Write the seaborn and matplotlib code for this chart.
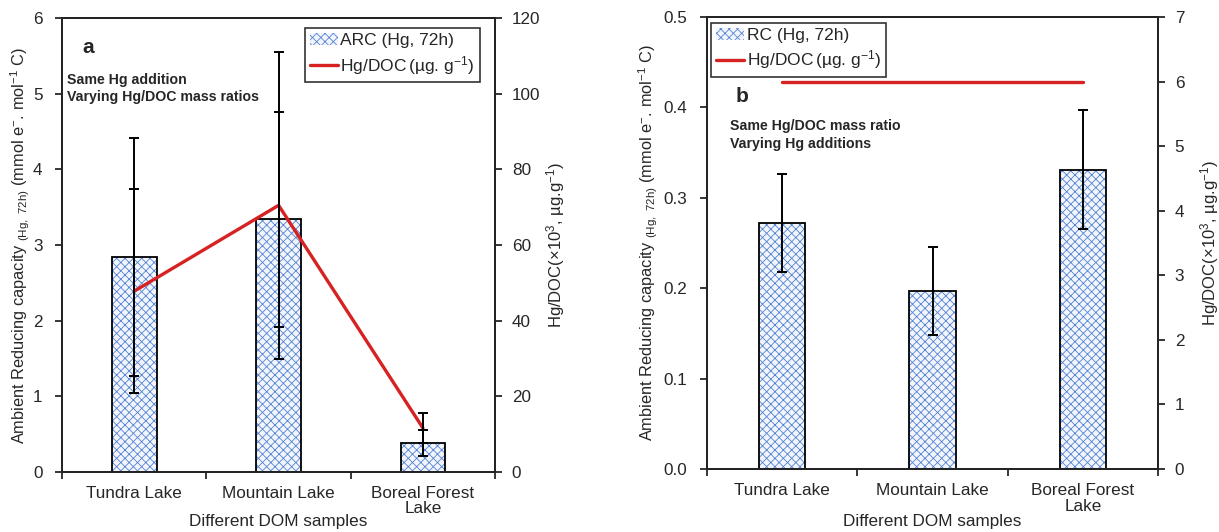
import numpy as np
import matplotlib
matplotlib.use("Agg")
import matplotlib.pyplot as plt
import seaborn as sns

# ---- data ----
samples = ["Tundra Lake", "Mountain Lake", "Boreal Forest\nLake"]

# panel a: same Hg addition, varying Hg/DOC
arc_a = [2.84, 3.34, 0.38]
arc_a_err = [1.57, 1.42, 0.17]
hgdoc_a = [47.8, 70.5, 11.6]
hgdoc_a_err = [27.0, 40.6, 4.0]

# panel b: same Hg/DOC, varying Hg additions
rc_b = [0.272, 0.197, 0.331]
rc_b_err = [0.054, 0.049, 0.066]
hgdoc_b = [6.0, 6.0, 6.0]

bar_face = "#f2f6fc"
hatch_blue = "#5482d4"
red = "#d62222"

sns.set_style("ticks")
plt.rcParams["font.family"] = ["Liberation Sans", "DejaVu Sans"]
plt.rcParams["mathtext.default"] = "regular"
plt.rcParams["hatch.linewidth"] = 0.6
plt.rcParams["axes.linewidth"] = 1.3
plt.rcParams["xtick.major.width"] = 1.3
plt.rcParams["ytick.major.width"] = 1.3
plt.rcParams["xtick.minor.width"] = 1.3

fig = plt.figure(figsize=(12.19, 5.32), dpi=100)
ax_a = fig.add_axes([0.0509, 0.1128, 0.3553, 0.8532])
ax_b = fig.add_axes([0.5800, 0.1184, 0.3700, 0.8497])

ylab = r"Ambient Reducing capacity $_{(Hg,\ 72h)}$ (mmol e$^{-}$. mol$^{-1}$ C)"
rlab = r"Hg/DOC(×10$^{3}$, µg.g$^{-1}$)"


def hatched_bars(ax, values, label):
    sns.barplot(x=samples, y=values, color=bar_face, saturation=1, width=0.31,
                errorbar=None, label=label, ax=ax)
    for p in ax.patches:
        p.set_edgecolor(hatch_blue)
        p.set_hatch("xxxx")
        p.set_linewidth(0)
    n = len(ax.patches)
    sns.barplot(x=samples, y=values, color="black", width=0.31, fill=False,
                errorbar=None, ax=ax)
    for p in ax.patches[n:]:
        p.set_facecolor("none")
        p.set_edgecolor("black")
        p.set_linewidth(1.3)


def style_axes(ax, ax2, xlab_y):
    pos = np.arange(len(samples))
    ax.set_xlim(-0.5, len(samples) - 0.5)
    ax.set_xticks(pos)
    ax.set_xticklabels(samples, fontsize=12.3, linespacing=1.05)
    ax.set_xticks(np.arange(len(samples) + 1) - 0.5, minor=True)
    ax.tick_params(axis="x", which="major", length=0, pad=10)
    ax.tick_params(axis="x", which="minor", length=5, direction="out")
    ax.tick_params(axis="y", length=5, direction="out", labelsize=12.3, pad=9)
    ax2.tick_params(axis="y", length=5, direction="out", labelsize=12.3, pad=7)
    for s in ax.spines.values():
        s.set_visible(True)
        s.set_color("black")
    ax.set_xlabel("Different DOM samples", fontsize=12.3)
    ax.xaxis.set_label_coords(0.5, xlab_y)


def boxed_legend(ax, anchor, loc):
    h, l = ax.get_legend_handles_labels()
    order = [l.index(s) for s in l if not s.startswith("Hg")] + \
            [l.index(s) for s in l if s.startswith("Hg")]
    leg = ax.legend([h[i] for i in order], [l[i] for i in order],
                    loc=loc, bbox_to_anchor=anchor, borderaxespad=0,
                    fontsize=12.5, frameon=True, fancybox=False,
                    handlelength=1.6, handletextpad=0.15, labelspacing=0.3,
                    borderpad=0.3)
    leg.get_frame().set_edgecolor("black")
    leg.get_frame().set_linewidth(1.2)


x = np.arange(len(samples))

# ---------------- panel a ----------------
ax2_a = ax_a.twinx()
ax2_a.set_ylim(0, 120)
ax2_a.set_yticks(np.arange(0, 121, 20))
hatched_bars(ax_a, arc_a, "ARC (Hg, 72h)")
ax_a.plot(x, hgdoc_a, color=red, lw=2.4, zorder=3, transform=ax2_a.transData,
          label=r"Hg/DOC$\,$(µg. g$^{-1}$)")
ax_a.errorbar(x, arc_a, yerr=arc_a_err, fmt="none", ecolor="black",
              elinewidth=1.4, capsize=3.5, capthick=1.4, zorder=4)
ax_a.errorbar(x, hgdoc_a, yerr=hgdoc_a_err, fmt="none", ecolor="black",
              elinewidth=1.4, capsize=3.5, capthick=1.4, zorder=4,
              transform=ax2_a.transData)
ax_a.set_ylim(0, 6)
ax_a.set_yticks(np.arange(0, 7, 1))
style_axes(ax_a, ax2_a, -0.093)
ax_a.set_ylabel(ylab, fontsize=11.8, labelpad=1)
ax2_a.set_ylabel(rlab, fontsize=12, labelpad=3)
ax_a.text(0.046, 0.936, "a", transform=ax_a.transAxes, fontsize=15,
          fontweight="bold", va="center", ha="left")
ax_a.text(0.012, 0.88, "Same Hg addition\nVarying Hg/DOC mass ratios",
          transform=ax_a.transAxes, fontsize=10.2, fontweight="bold",
          va="top", ha="left", linespacing=1.35)
boxed_legend(ax_a, (0.965, 0.978), "upper right")

# ---------------- panel b ----------------
ax2_b = ax_b.twinx()
ax2_b.set_ylim(0, 7)
ax2_b.set_yticks(np.arange(0, 8, 1))
hatched_bars(ax_b, rc_b, "RC (Hg, 72h)")
ax_b.plot(x, hgdoc_b, color=red, lw=2.4, zorder=3, transform=ax2_b.transData,
          label=r"Hg/DOC$\,$(µg. g$^{-1}$)")
ax_b.errorbar(x, rc_b, yerr=rc_b_err, fmt="none", ecolor="black",
              elinewidth=1.4, capsize=3.5, capthick=1.4, zorder=4)
ax_b.set_ylim(0, 0.5)
ax_b.set_yticks(np.arange(0, 0.51, 0.1))
ax_b.set_yticklabels([f"{v:.1f}" for v in np.arange(0, 0.51, 0.1)])
style_axes(ax_b, ax2_b, -0.1)
ax_b.set_ylabel(ylab, fontsize=11.8, labelpad=3)
ax2_b.set_ylabel(rlab, fontsize=12, labelpad=10)
ax_b.text(0.064, 0.823, "b", transform=ax_b.transAxes, fontsize=15,
          fontweight="bold", va="center", ha="left")
ax_b.text(0.051, 0.774, "Same Hg/DOC mass ratio\nVarying Hg additions",
          transform=ax_b.transAxes, fontsize=10.2, fontweight="bold",
          va="top", ha="left", linespacing=1.35)
boxed_legend(ax_b, (0.009, 0.987), "upper left")

fig.savefig("out.png", dpi=100)
